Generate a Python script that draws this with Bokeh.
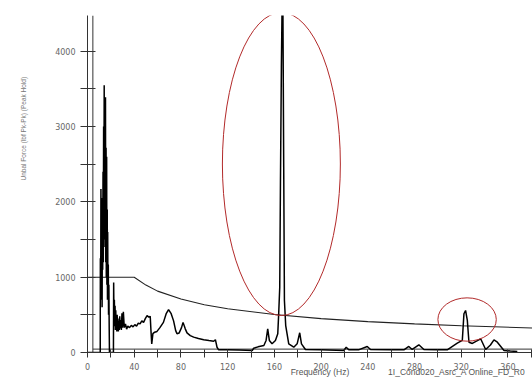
from bokeh.plotting import figure
from bokeh.models import FixedTicker, LinearAxis, Range1d
from bokeh.embed import file_html
from bokeh.resources import INLINE
import math

# Spectrum (Peak Hold) trace: frequency (Hz) and unbalance force (lbf Pk-Pk)
spec_freq = [0, 10.9, 11.0, 11.3, 11.5, 11.7, 11.9, 12.1, 12.3, 12.5, 12.8, 13.0, 13.3, 13.5, 13.8, 14.0,
             14.3, 14.5, 14.8, 15.0, 15.4, 15.6, 15.9, 16.1, 16.4, 16.6, 16.9, 17.1, 17.3, 17.5, 17.8, 18.0,
             18.3, 18.6, 18.8, 22.2, 22.4, 22.7, 23.0, 23.3, 23.6, 23.9, 24.2, 24.5, 24.8, 25.1, 25.4, 25.7,
             26.0, 26.4, 26.8, 27.2, 27.6, 28.0, 28.5, 29.0, 29.5, 30.0, 30.7, 31.5, 32.5, 33.5, 34.5, 36.0,
             37.5, 39.0, 40.5, 42.0, 43.5, 45.0, 46.5, 48.0, 49.5, 51.0, 52.5, 53.7, 54.3, 55.0, 56.0, 57.5,
             59.5, 62.0, 65.0, 67.5, 69.4, 71.5, 73.7, 75.5, 76.6, 78.5, 80.5, 81.8, 83.7, 85.2, 88.0, 90.9,
             95.0, 99.5, 104.0, 108.0, 109.5, 110.9, 112.3, 120.0, 130.0, 141.0, 142.3, 146.0, 151.0, 152.9,
             154.3, 155.7, 158.0, 160.9, 162.9, 163.7, 164.6, 165.2, 166.0, 166.6, 167.3, 168.0, 168.6, 169.7,
             172.3, 176.6, 179.5, 181.7, 183.2, 186.6, 200.0, 219.4, 221.5, 223.7, 232.0, 239.5, 242.3, 260.0,
             270.9, 275.1, 278.0, 283.7, 288.0, 300.0, 308.0, 316.6, 320.9, 322.3, 323.7, 325.2, 326.6, 329.5,
             333.0, 336.6, 340.9, 345.0, 348.0, 350.9, 356.6, 362.0, 368.0]
spec_force = [0, 0, 1250, 800, 2170, 700, 2050, 950, 1700, 600, 2050, 1100, 2400, 1200, 3000, 1500,
              3550, 1800, 3300, 1400, 3390, 1200, 2720, 1000, 2600, 900, 1900, 700, 1600, 800, 1170, 500,
              900, 300, 0, 0, 930, 400, 700, 350, 620, 300, 560, 330, 480, 280, 500, 300,
              450, 280, 420, 300, 480, 320, 430, 300, 520, 330, 540, 330, 380, 310, 350, 330,
              360, 340, 370, 350, 390, 380, 420, 400, 450, 490, 470, 480, 300, 115, 250, 270,
              280, 330, 400, 520, 570, 520, 420, 290, 250, 260, 330, 400, 314, 260, 225, 204,
              185, 168, 158, 150, 170, 70, 36, 35, 33, 27, 57, 75, 93, 160,
              314, 160, 115, 160, 248, 514, 867, 2262, 3790, 4600, 4600, 2460, 690, 358,
              115, 70, 115, 262, 115, 40, 35, 27, 70, 36, 35, 80, 40, 35,
              36, 80, 40, 102, 40, 35, 36, 124, 160, 514, 558, 425, 137, 120,
              150, 182, 40, 100, 168, 137, 27, 20, 13]

# Alarm envelope
env_freq = [0, 40, 50, 60, 80, 100, 120, 160, 200, 240, 280, 320, 381]
env_force = [1000, 1000, 895, 815, 710, 635, 580, 505, 450, 410, 380, 355, 325]

# Cursor / baseline lines
cursor_freq = 4.6
baseline_force = 45

# Highlight ellipses: centre freq, centre force, width (Hz), height (lbf)
ell_x = [166, 325]
ell_y = [2503, 438]
ell_w = [101, 50]
ell_h = [4024, 576]

x_ticks = [0, 40, 80, 120, 160, 200, 240, 280, 320, 360]
x_minor = [20, 60, 100, 140, 180, 220, 260, 300, 340, 380]
y_ticks = [0, 1000, 2000, 3000, 4000]
y_minor = [500, 1500, 2500, 3500]

x_title = "Frequency (Hz)"
src_title = "1I_Cond020_Asrc_A Online_FD_R0"
y_title = "Unbal Force (lbf Pk-Pk) (Peak Hold)"
x_title_pos = 199
src_title_pos = 316
y_title_pos = 3660

X_MAX = 381
Y_MAX = 4475

p = figure(width=532, height=379, output_backend="svg", toolbar_location=None,
           x_range=Range1d(0, X_MAX), y_range=Range1d(0, Y_MAX),
           min_border_left=87, min_border_right=0, min_border_top=15, min_border_bottom=27)
p.outline_line_color = None
p.grid.grid_line_color = None
p.background_fill_color = "white"
p.border_fill_color = "white"

# main axes
p.xaxis.ticker = FixedTicker(ticks=x_ticks, minor_ticks=x_minor)
p.yaxis.ticker = FixedTicker(ticks=y_ticks, minor_ticks=y_minor)
for ax in (p.xaxis, p.yaxis):
    ax.axis_line_color = "#333333"
    ax.major_tick_line_color = "#333333"
    ax.minor_tick_line_color = "#333333"
    ax.major_label_text_font = "DejaVu Sans"
    ax.major_label_text_font_size = "8px"
    ax.major_label_text_color = "#666666"
p.yaxis.major_tick_out = 7
p.yaxis.major_tick_in = 8
p.yaxis.minor_tick_out = 7
p.yaxis.minor_tick_in = 8
p.yaxis.major_label_standoff = 5
p.xaxis.major_tick_out = 5
p.xaxis.major_tick_in = 3
p.xaxis.minor_tick_out = 5
p.xaxis.minor_tick_in = 3
p.xaxis.major_label_standoff = 5

# title axes (text only)
xt = LinearAxis(ticker=FixedTicker(ticks=[x_title_pos, src_title_pos], minor_ticks=[]),
                major_label_overrides={x_title_pos: x_title, src_title_pos: src_title})
yt = LinearAxis(ticker=FixedTicker(ticks=[y_title_pos], minor_ticks=[]),
                major_label_overrides={y_title_pos: y_title},
                major_label_orientation=math.pi / 2)
for ax in (xt, yt):
    ax.axis_line_color = None
    ax.major_tick_line_color = None
    ax.minor_tick_line_color = None
    ax.major_tick_out = 0
    ax.major_tick_in = 0
    ax.major_label_text_font = "Liberation Sans"
    ax.major_label_text_color = "#555555"
xt.major_label_text_font_size = "8.5px"
xt.major_label_standoff = -6
yt.major_label_text_font_size = "6.5px"
yt.major_label_text_color = "#777777"
yt.major_label_standoff = 29
p.add_layout(xt, "below")
p.add_layout(yt, "left")

# extra lines
p.segment(x0=[cursor_freq], y0=[0], x1=[cursor_freq], y1=[Y_MAX], line_color="#333333", line_width=1)
p.segment(x0=[cursor_freq], y0=[baseline_force], x1=[X_MAX], y1=[baseline_force], line_color="#333333", line_width=1)

# envelope
p.line(env_freq, env_force, line_color="#222222", line_width=1.1)
# spectrum
p.line(spec_freq, spec_force, line_color="black", line_width=1.5)

# highlight ellipses
p.ellipse(x=ell_x, y=ell_y, width=ell_w, height=ell_h, fill_color=None,
          line_color="#b22a2a", line_width=1)

open("out.html", "w").write(file_html(p, INLINE))
